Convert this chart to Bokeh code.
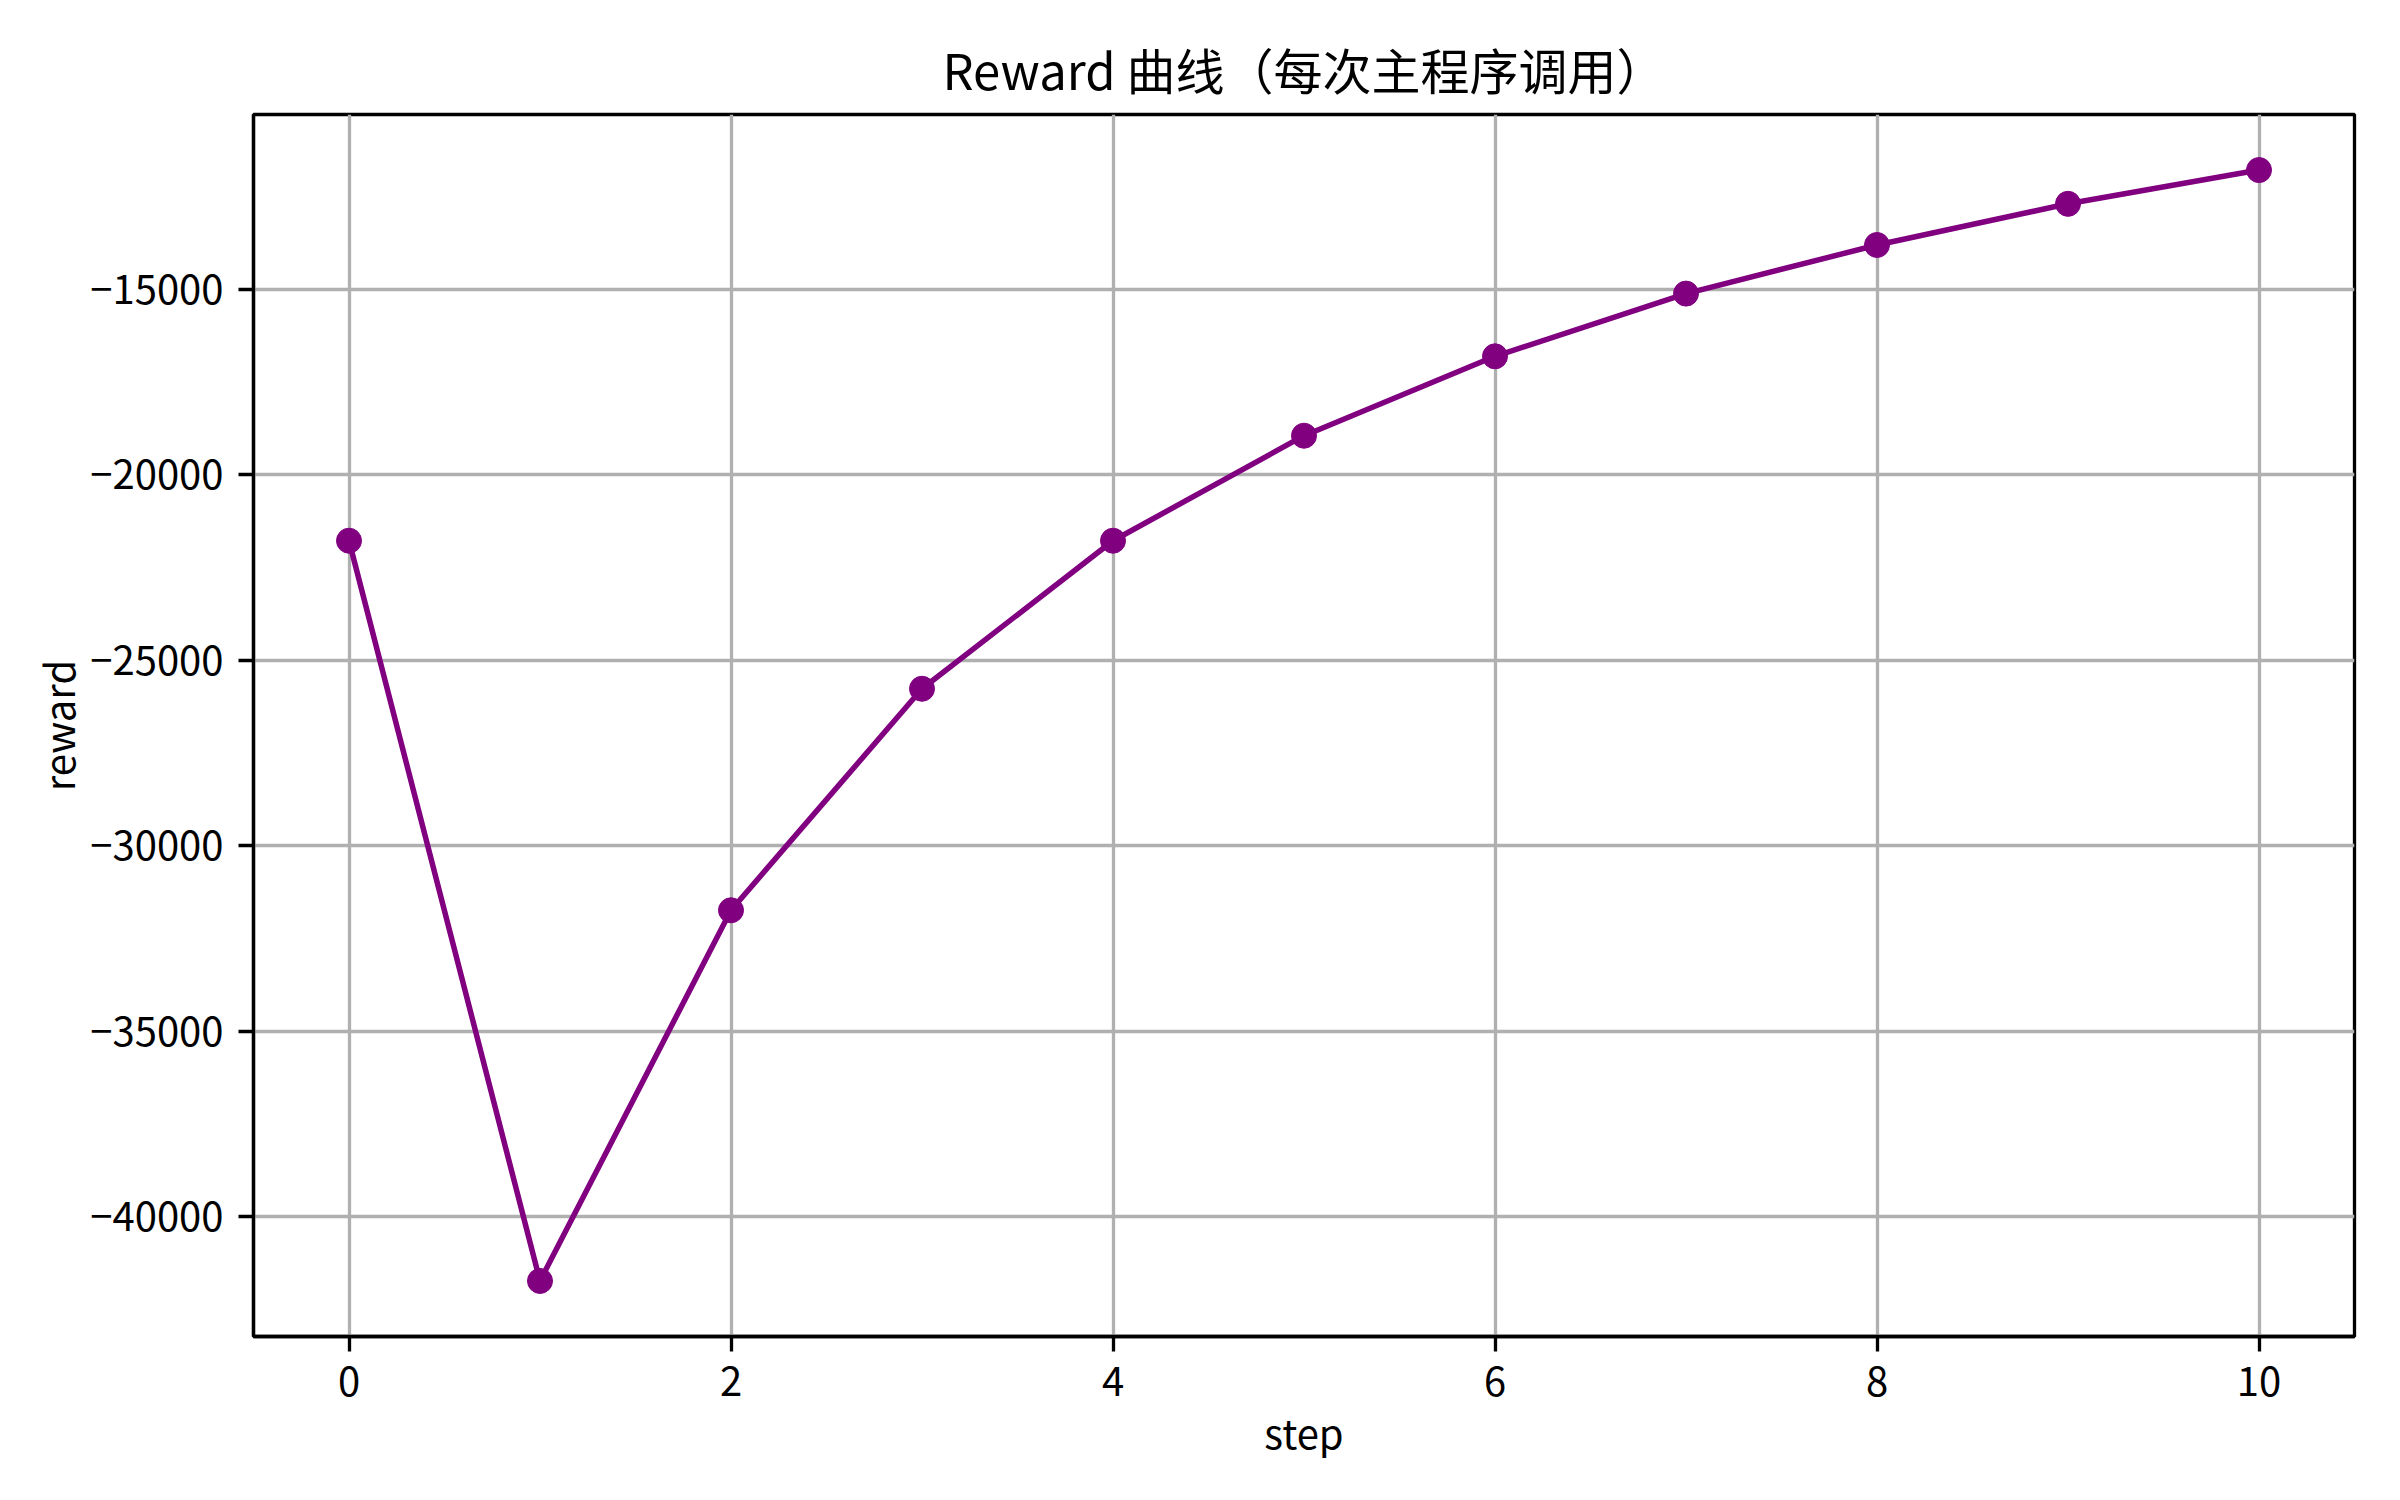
from bokeh.plotting import figure
from bokeh.models import FixedTicker, CustomJSTickFormatter, Range1d
from bokeh.embed import file_html
from bokeh.resources import INLINE

steps = [0, 1, 2, 3, 4, 5, 6, 7, 8, 9, 10]
rewards = [-21780, -41730, -31740, -25770, -21780, -18950, -16810, -15120, -13810, -12700, -11790]
x_ticks = [0, 2, 4, 6, 8, 10]
y_ticks = [-40000, -35000, -30000, -25000, -20000, -15000]

FONT = "Noto Sans CJK SC"
W, H = 2384, 1484

p = figure(width=W, height=H, output_backend="svg", toolbar_location=None,
           x_range=Range1d(-0.5, 10.5), y_range=Range1d(-43227, -10293),
           min_border_left=253, min_border_right=30, min_border_top=114, min_border_bottom=148)

p.title.text = "Reward 曲线（每次主程序调用）"
p.title.align = "center"
p.title.text_font = FONT
p.title.text_font_size = "49px"
p.title.text_font_style = "normal"
p.title.text_color = "black"
p.title.standoff = 22

p.line(steps, rewards, line_color="#800080", line_width=5.5)
p.scatter(steps, rewards, size=25, fill_color="#800080", line_color="#800080")

p.outline_line_color = "black"
p.outline_line_width = 3.3
p.outline_line_alpha = 1.0

for ax in (p.xaxis[0], p.yaxis[0]):
    ax.axis_line_color = "black"
    ax.axis_line_width = 3.3
    ax.major_tick_line_color = "black"
    ax.major_tick_line_width = 3.3
    ax.major_tick_out = 15
    ax.major_tick_in = 0
    ax.minor_tick_line_color = None
    ax.major_label_text_font = FONT
    ax.major_label_text_font_size = "40px"
    ax.major_label_text_color = "black"
    ax.major_label_standoff = 15
    ax.axis_label_text_font = FONT
    ax.axis_label_text_font_size = "40px"
    ax.axis_label_text_font_style = "normal"
    ax.axis_label_text_color = "black"

p.xaxis[0].ticker = FixedTicker(ticks=x_ticks)
p.yaxis[0].ticker = FixedTicker(ticks=y_ticks)
p.yaxis[0].formatter = CustomJSTickFormatter(code="return tick < 0 ? '\u2212' + Math.abs(tick) : String(tick);")
p.xaxis[0].axis_label = "step"
p.yaxis[0].axis_label = "reward"
p.xaxis[0].axis_label_standoff = 4
p.yaxis[0].axis_label_standoff = 0

p.xgrid.grid_line_color = "#b0b0b0"
p.ygrid.grid_line_color = "#b0b0b0"
p.xgrid.grid_line_width = 3.3
p.ygrid.grid_line_width = 3.3
p.xgrid.ticker = FixedTicker(ticks=x_ticks)
p.ygrid.ticker = FixedTicker(ticks=y_ticks)

p.background_fill_color = "white"
p.border_fill_color = "white"

open("out.html", "w").write(file_html(p, INLINE))
